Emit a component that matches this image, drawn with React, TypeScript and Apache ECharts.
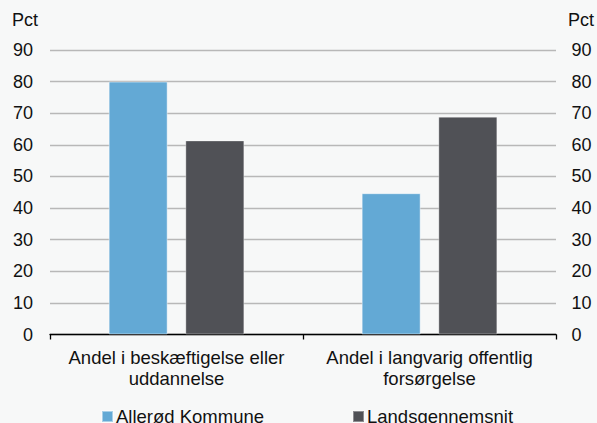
import React, { useEffect, useRef } from "react";
import * as echarts from "echarts";

const categories = ["Andel i beskæftigelse eller\nuddannelse", "Andel i langvarig offentlig\nforsørgelse"];
const seriesNames = ["Allerød Kommune", "Landsgennemsnit"];
const allerod = [80, 44.7];
const lands = [61.4, 68.9];
const colors = ["#63A9D5", "#505156"];
const yMin = 0;
const yMax = 90;
const yInterval = 10;
const unitLabel = "Pct";

const FONT = "'Liberation Sans', Arial, sans-serif";

export default function App() {
  const ref = useRef<HTMLDivElement>(null);
  useEffect(() => {
    document.body.style.margin = "0";
    const chart = echarts.init(ref.current!, undefined, { renderer: "svg" });
    const yAxisBase = {
      type: "value" as const,
      min: yMin,
      max: yMax,
      interval: yInterval,
      axisLine: { show: false },
      axisTick: { show: false },
      axisLabel: { fontSize: 18, color: "#111", fontFamily: FONT },
    };
    chart.setOption({
      animation: false,
      backgroundColor: "#f7f8f8",
      textStyle: { fontFamily: FONT },
      grid: { left: 50, right: 41, top: 50, bottom: 88.5, containLabel: false },
      xAxis: {
        type: "category",
        data: categories,
        axisLine: { lineStyle: { color: "#000", width: 1.3 } },
        axisTick: { show: true, interval: 0, length: 5, lineStyle: { color: "#000", width: 1.3 } },
        axisLabel: { interval: 0, fontSize: 18.5, color: "#111", fontFamily: FONT, lineHeight: 21, margin: 12 },
      },
      yAxis: [
        {
          ...yAxisBase,
          position: "left",
          axisLabel: { ...yAxisBase.axisLabel, margin: 17 },
          splitLine: { show: true, lineStyle: { color: "#b8b8b8", width: 1.3 } },
        },
        {
          ...yAxisBase,
          position: "right",
          axisLabel: { ...yAxisBase.axisLabel, margin: 15.5 },
          splitLine: { show: false },
        },
      ],
      legend: [
        {
          data: [seriesNames[0]],
          left: 101,
          top: 407,
          padding: 0,
          icon: "rect",
          itemWidth: 11,
          itemHeight: 11,
          itemGap: 0,
          textStyle: { fontSize: 18.5, color: "#111", fontFamily: FONT, padding: [0, 0, 0, -2] },
        },
        {
          data: [seriesNames[1]],
          left: 352,
          top: 407,
          padding: 0,
          icon: "rect",
          itemWidth: 11,
          itemHeight: 11,
          itemGap: 0,
          textStyle: { fontSize: 18.5, color: "#111", fontFamily: FONT, padding: [0, 0, 0, -2] },
        },
      ],
      graphic: [
        { type: "text", left: 12, top: 11, style: { text: unitLabel, fontSize: 18, fill: "#111", fontFamily: FONT } },
        { type: "text", left: 568, top: 11, style: { text: unitLabel, fontSize: 18, fill: "#111", fontFamily: FONT } },
      ],
      series: [
        {
          name: seriesNames[0],
          type: "bar",
          data: allerod,
          barWidth: 59,
          barGap: "30%",
          itemStyle: { color: colors[0], borderColor: "rgba(255,255,255,0.45)", borderWidth: 1 },
        },
        {
          name: seriesNames[1],
          type: "bar",
          data: lands,
          barWidth: 59,
          barGap: "30%",
          itemStyle: { color: colors[1], borderColor: "rgba(255,255,255,0.35)", borderWidth: 1 },
        },
      ],
    });
    return () => chart.dispose();
  }, []);
  return <div ref={ref} style={{ width: 597, height: 423 }} />;
}
